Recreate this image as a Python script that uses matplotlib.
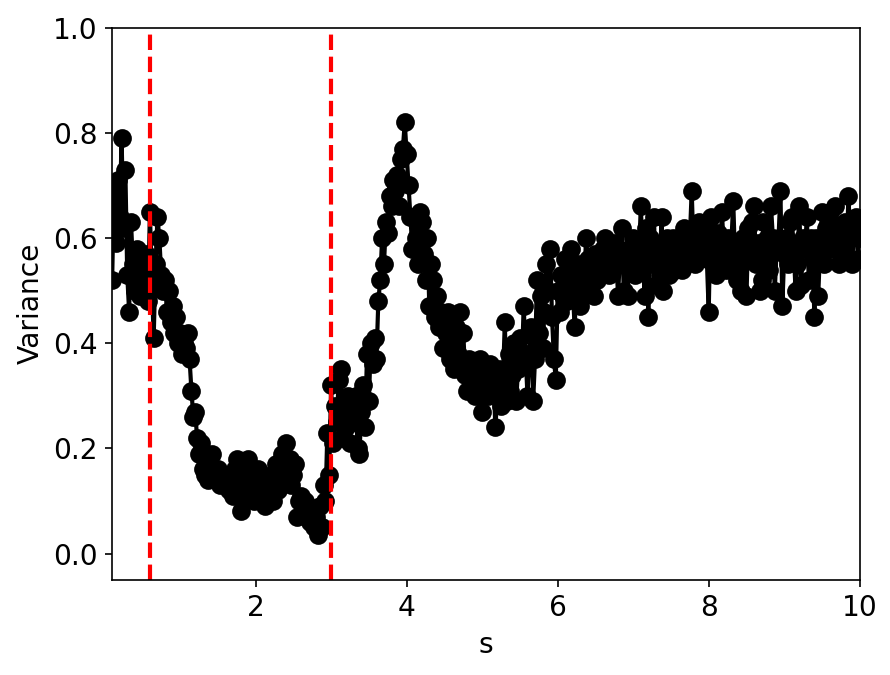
import numpy as np
import matplotlib
matplotlib.use("Agg")
import matplotlib.pyplot as plt

# s grid, 0.1 .. 10 in steps of 0.025
s = np.linspace(0.1, 10, 397)

# variance values, 20 per half unit of s
var_0 = [0.52, 0.70, 0.59, 0.71, 0.64, 0.79, 0.62, 0.73, 0.53, 0.46,
         0.63, 0.55, 0.50, 0.58, 0.53, 0.49, 0.56, 0.51, 0.57, 0.48]
var_1 = [0.65, 0.52, 0.41, 0.55, 0.64, 0.60, 0.53, 0.50, 0.52, 0.46,
         0.50, 0.44, 0.47, 0.42, 0.45, 0.40, 0.42, 0.38, 0.40, 0.39]
var_2 = [0.42, 0.37, 0.31, 0.26, 0.27, 0.22, 0.19, 0.21, 0.16, 0.15,
         0.17, 0.14, 0.16, 0.19, 0.15, 0.14, 0.16, 0.13, 0.15, 0.14]
var_3 = [0.13, 0.15, 0.12, 0.14, 0.11, 0.16, 0.18, 0.13, 0.08, 0.12,
         0.10, 0.15, 0.18, 0.12, 0.14, 0.10, 0.13, 0.16, 0.11, 0.14]
var_4 = [0.12, 0.09, 0.14, 0.11, 0.15, 0.10, 0.13, 0.17, 0.12, 0.15,
         0.19, 0.14, 0.21, 0.16, 0.18, 0.13, 0.15, 0.17, 0.07, 0.10]
var_5 = [0.11, 0.08, 0.10, 0.07, 0.09, 0.06, 0.08, 0.05, 0.07, 0.035,
         0.09, 0.05, 0.13, 0.10, 0.23, 0.15, 0.32, 0.21, 0.28, 0.25]
var_6 = [0.33, 0.35, 0.22, 0.29, 0.24, 0.30, 0.21, 0.28, 0.25, 0.30,
         0.20, 0.19, 0.27, 0.32, 0.24, 0.38, 0.29, 0.40, 0.36, 0.41]
var_7 = [0.37, 0.48, 0.52, 0.60, 0.55, 0.63, 0.61, 0.68, 0.66, 0.71,
         0.69, 0.72, 0.66, 0.75, 0.77, 0.82, 0.76, 0.70, 0.64, 0.58]
var_8 = [0.64, 0.60, 0.55, 0.65, 0.63, 0.57, 0.52, 0.60, 0.47, 0.55,
         0.52, 0.45, 0.49, 0.43, 0.46, 0.39, 0.44, 0.42, 0.46, 0.37]
var_9 = [0.40, 0.35, 0.43, 0.38, 0.46, 0.36, 0.42, 0.34, 0.31, 0.37,
         0.33, 0.36, 0.30, 0.34, 0.32, 0.37, 0.27, 0.33, 0.35, 0.30]
var_10 = [0.36, 0.31, 0.33, 0.24, 0.30, 0.35, 0.28, 0.33, 0.44, 0.29,
          0.38, 0.31, 0.34, 0.40, 0.29, 0.35, 0.41, 0.36, 0.47, 0.38]
var_11 = [0.30, 0.38, 0.43, 0.29, 0.37, 0.52, 0.42, 0.49, 0.39, 0.46,
          0.55, 0.50, 0.58, 0.45, 0.37, 0.33, 0.50, 0.46, 0.53, 0.49]
var_12 = [0.56, 0.48, 0.55, 0.58, 0.50, 0.43, 0.52, 0.55, 0.47, 0.53,
          0.50, 0.60, 0.56, 0.52, 0.54, 0.49, 0.57, 0.52, 0.56, 0.54]
var_13 = [0.58, 0.60, 0.55, 0.53, 0.57, 0.54, 0.59, 0.56, 0.49, 0.57,
          0.62, 0.50, 0.55, 0.49, 0.58, 0.56, 0.60, 0.53, 0.57, 0.55]
var_14 = [0.66, 0.58, 0.49, 0.62, 0.45, 0.60, 0.55, 0.64, 0.51, 0.58,
          0.53, 0.64, 0.50, 0.56, 0.60, 0.53, 0.57, 0.60, 0.54, 0.59]
var_15 = [0.56, 0.60, 0.54, 0.62, 0.58, 0.56, 0.60, 0.69, 0.57, 0.55,
          0.61, 0.63, 0.58, 0.62, 0.60, 0.56, 0.46, 0.64, 0.60, 0.55]
var_16 = [0.53, 0.61, 0.57, 0.65, 0.58, 0.54, 0.60, 0.56, 0.59, 0.67,
          0.55, 0.52, 0.58, 0.50, 0.60, 0.56, 0.49, 0.62, 0.57, 0.63]
var_17 = [0.66, 0.55, 0.59, 0.50, 0.52, 0.63, 0.56, 0.60, 0.54, 0.66,
          0.60, 0.50, 0.58, 0.60, 0.69, 0.47, 0.57, 0.60, 0.55, 0.63]
var_18 = [0.64, 0.58, 0.50, 0.55, 0.66, 0.51, 0.60, 0.58, 0.64, 0.52,
          0.60, 0.56, 0.45, 0.60, 0.49, 0.58, 0.65, 0.55, 0.62, 0.58]
var_19 = [0.65, 0.58, 0.62, 0.66, 0.60, 0.55, 0.61, 0.57, 0.63, 0.56,
          0.68, 0.60, 0.55, 0.62, 0.64, 0.56, 0.60]

variance = np.array(var_0 + var_1 + var_2 + var_3 + var_4 + var_5 + var_6
                    + var_7 + var_8 + var_9 + var_10 + var_11 + var_12
                    + var_13 + var_14 + var_15 + var_16 + var_17 + var_18
                    + var_19)

# change points marked with red dashed lines
breaks = [0.6, 3.0]

plt.rcParams['font.size'] = 13.5
plt.rcParams['lines.linewidth'] = 2

fig = plt.figure(figsize=(890 / 150, 675 / 150), dpi=150)
ax = fig.add_axes([0.126, 0.141, 0.84, 0.818])

ax.plot(s, variance, 'k-o', markersize=8)
for b in breaks:
    ax.axvline(b, color='r', linestyle='--')

ax.set_xlim(0.1, 10)
ax.set_ylim(-0.05, 1.0)
ax.set_xlabel('s')
ax.set_ylabel('Variance')

fig.savefig('out.png', dpi=150)
